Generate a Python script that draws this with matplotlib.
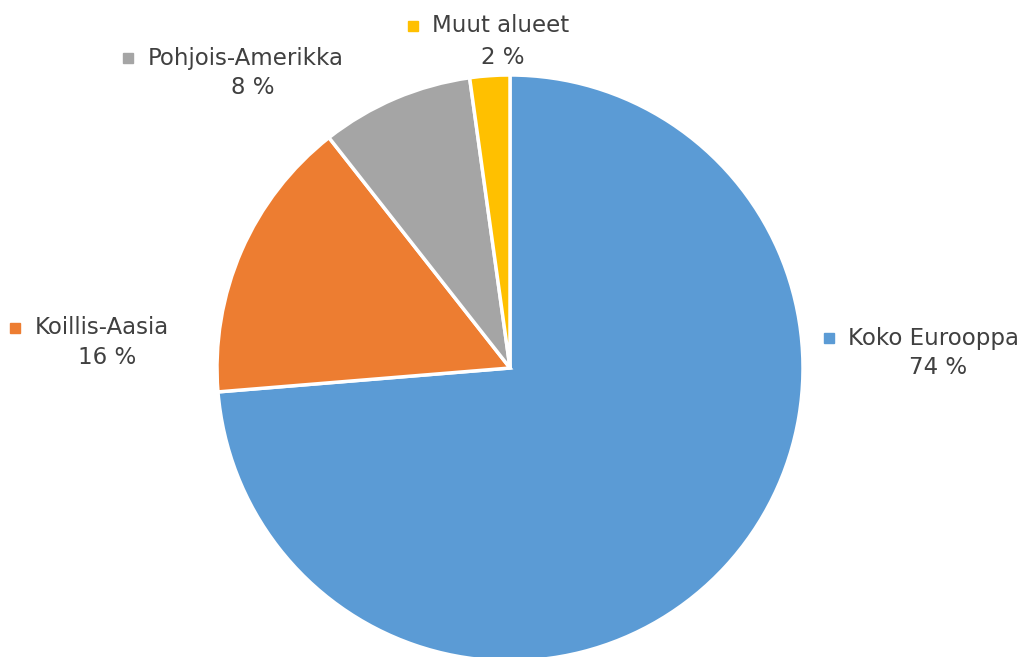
import matplotlib
matplotlib.use("Agg")
import matplotlib.pyplot as plt

plt.rcParams["font.family"] = ["DejaVu Sans"]

regions = ["Koko Eurooppa", "Koillis-Aasia", "Pohjois-Amerikka", "Muut alueet"]
shares = [73.7, 15.7, 8.4, 2.2]
shown = ["74 %", "16 %", "8 %", "2 %"]
colors = ["#5B9BD5", "#ED7D31", "#A5A5A5", "#FFC000"]

W, H = 1032, 657
TXT = "#404040"

fig = plt.figure(figsize=(W / 100, H / 100), dpi=100)
fig.patch.set_facecolor("white")
ax = fig.add_axes([0, 0, 1, 1])

ax.pie(shares, colors=colors, startangle=90, counterclock=False,
       center=(510, H - 368), radius=293,
       wedgeprops=dict(edgecolor="white", linewidth=2.5))
# pie() resets the limits, so put the pixel frame back afterwards
ax.set_xlim(0, W); ax.set_ylim(0, H)
ax.set_aspect("equal"); ax.axis("off")

# label layout: (marker x, name left x, line-1 y, value centre x, line-2 y), in px from top
layout = [
    (829, 848, 338, 938, 367),
    (15, 35, 328, 107, 357),
    (128, 148, 58, 253, 88),
    (413, 432, 26, 503, 57),
]
for name, val, col, (mx, tx, y1, vx, y2) in zip(regions, shown, colors, layout):
    ax.plot(mx, H - y1, marker="s", ms=6.5, color=col, mec=col)
    ax.text(tx, H - y1, name, ha="left", va="center", fontsize=16.5, color=TXT)
    ax.text(vx, H - y2, val, ha="center", va="center", fontsize=16.5, color=TXT)

fig.savefig("out.png", dpi=100)
